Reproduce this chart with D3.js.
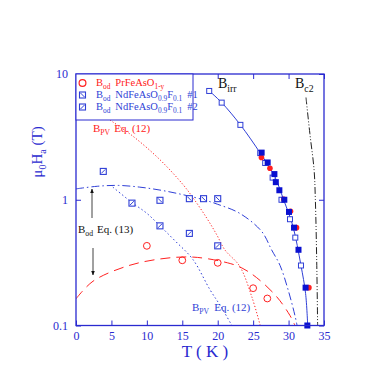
<!DOCTYPE html>
<html><head><meta charset="utf-8">
<script src="https://cdn.jsdelivr.net/npm/d3@7"></script>
<style>body{margin:0;background:#fff}svg{display:block}text{font-family:"Liberation Serif","Times New Roman",serif}</style>
</head><body><svg id="c" width="374" height="375"></svg>
<script>
// ---- data (T in K, B in tesla) ----
const xTicks = [0,5,10,15,20,25,30,35];
const yTicks = [0.1,1,10];
const yTickLabels = ["0.1","1","10"];
// B_od PrFeAsO1-y (red open circles)
const prOd = [[10,0.43],[15,0.33],[20,0.315],[25,0.198],[27,0.164]];
// B_od NdFeAsO0.9F0.1 #1
const nd1Od = [[11.85,0.99],[16,1.02],[18,1.02],[20,1.02]];
// B_od NdFeAsO0.9F0.1 #2
const nd2Od = [[3.85,1.68],[7.9,0.94],[11.85,0.62],[16,0.54],[20,0.43]];
// B_irr open squares
const irrOpen = [[18.8,7.33],[20.56,5.92],[23.2,3.94],[26.0,2.35],[26.7,1.96],[27.75,1.5],[29.0,1.0],[30.2,0.70],[30.95,0.50],[31.75,0.30]];
// B_irr filled squares
const irrFilled = [[26.2,2.37],[27.05,1.98],[28.0,1.6],[28.2,1.38],[28.7,1.19],[29.4,1.0],[30.06,0.80],[30.77,0.60],[31.4,0.40],[32.4,0.20],[32.65,0.1]];
// B_irr red filled circles
const irrRed = [[26.1,2.17],[27.3,1.78],[29.26,1.01],[30.2,0.81],[31.05,0.60],[32.8,0.20]];
// B_irr guide line
const irrLine = [[18.5,7.6],[20.56,5.92],[23.2,3.94],[26.0,2.35],[28.0,1.55],[29.3,1.0],[30.6,0.62],[31.75,0.30],[32.4,0.18],[32.7,0.1]];
// B_c2 line
const bc2Line = [[32.46,6.5],[33.0,3.38],[33.6,1.73],[33.78,1.0],[33.97,0.33],[34.1,0.1]];
// B_od Eq.(13) for Nd (blue dash-dot)
const ndOdCurve = [[0,1.22],[3,1.28],[6,1.3],[9,1.26],[12,1.19],[15,1.1],[18,1.0],[20,0.92],[23.1,0.78],[26.2,0.56],[27.6,0.40],[28.8,0.30],[29.96,0.19],[30.9,0.12],[31.2,0.1]];
// B_pv Eq.(12) for Nd (blue dotted)
const ndPvCurve = [[5.2,1.26],[7.9,0.95],[10,0.78],[11.85,0.62],[14,0.47],[16.5,0.335],[18.9,0.193],[20.5,0.14],[22,0.1]];
// B_od Eq.(13) for Pr (red dashed)
const prOdCurve = [[0,0.163],[2.4,0.225],[7.15,0.296],[11.85,0.338],[16.5,0.35],[21.4,0.315],[23.4,0.287],[25.5,0.24],[28.3,0.17],[30.2,0.12],[30.9,0.1]];
// B_pv Eq.(12) for Pr (red dotted)
const prPvCurve = [[4.8,4.3],[8.1,3.18],[11.85,2.08],[15.15,1.31],[16.55,1.03],[18.45,0.715],[19.86,0.527],[21.0,0.40],[23.1,0.296],[24.8,0.17],[26.0,0.1]];

// ---- chart ----
const svg = d3.select("#c");
const AX = "#2a2ad0", BL = "#2f3fd6", RD = "#ff2020";
const x = d3.scaleLinear().domain([0,35]).range([76,324]);
const y = d3.scaleLog().domain([0.1,10]).range([325.5,74]);

const clip = svg.append("defs").append("clipPath").attr("id","pc").append("rect")
  .attr("x",x(0)).attr("y",y(10)).attr("width",x(35)-x(0)).attr("height",y(0.1)-y(10));
const g = svg.append("g").attr("clip-path","url(#pc)");
const line = d3.line().x(d=>x(d[0])).y(d=>y(d[1])).curve(d3.curveCatmullRom);
const lineL = d3.line().x(d=>x(d[0])).y(d=>y(d[1]));

g.append("path").datum(ndOdCurve).attr("d",line).attr("fill","none").attr("stroke",BL).attr("stroke-width",1).attr("stroke-dasharray","8,3,1.5,3");
g.append("path").datum(ndPvCurve).attr("d",line).attr("fill","none").attr("stroke",BL).attr("stroke-width",1).attr("stroke-dasharray","1.5,2.5");
g.append("path").datum(prOdCurve).attr("d",line).attr("fill","none").attr("stroke",RD).attr("stroke-width",1).attr("stroke-dasharray","10,6");
g.append("path").datum(prPvCurve).attr("d",line).attr("fill","none").attr("stroke",RD).attr("stroke-width",1).attr("stroke-dasharray","1.2,2");
g.append("path").datum(irrLine).attr("d",line).attr("fill","none").attr("stroke",BL).attr("stroke-width",1);
g.append("path").datum(bc2Line).attr("d",line).attr("fill","none").attr("stroke","#222").attr("stroke-width",1).attr("stroke-dasharray","7,2,1,2,1,2");

// markers
function sqDiag(sel, dir, s){
  sel.append("rect").attr("x",-s/2).attr("y",-s/2).attr("width",s).attr("height",s).attr("fill","#fff").attr("stroke",BL).attr("stroke-width",1.1);
  if(dir>0) sel.append("line").attr("x1",-s/2+1).attr("y1",s/2-1).attr("x2",s/2-1).attr("y2",-s/2+1).attr("stroke",BL).attr("stroke-width",1);
  else sel.append("line").attr("x1",-s/2+1).attr("y1",-s/2+1).attr("x2",s/2-1).attr("y2",s/2-1).attr("stroke",BL).attr("stroke-width",1);
}
const pts = svg.append("g");
pts.selectAll(".io").data(irrOpen).join("rect").attr("x",d=>x(d[0])-2.5).attr("y",d=>y(d[1])-2.5).attr("width",5).attr("height",5).attr("fill","#fff").attr("stroke",BL).attr("stroke-width",1);
pts.selectAll(".ir").data(irrRed).join("circle").attr("cx",d=>x(d[0])+0.5).attr("cy",d=>y(d[1])).attr("r",2.8).attr("fill",RD);
pts.selectAll(".if").data(irrFilled).join("rect").attr("x",d=>x(d[0])-3).attr("y",d=>y(d[1])-3).attr("width",6).attr("height",6).attr("fill","#0a10d0");
pts.selectAll(".pr").data(prOd).join("circle").attr("cx",d=>x(d[0])).attr("cy",d=>y(d[1])).attr("r",3.4).attr("fill","none").attr("stroke",RD).attr("stroke-width",1);
pts.selectAll(".n1").data(nd1Od).join("g").attr("transform",d=>`translate(${x(d[0])},${y(d[1])})`).each(function(){sqDiag(d3.select(this),-1,6);});
pts.selectAll(".n2").data(nd2Od).join("g").attr("transform",d=>`translate(${x(d[0])},${y(d[1])})`).each(function(){sqDiag(d3.select(this),1,6);});

// axes
function styleAx(a){a.select(".domain").remove();a.selectAll("line").attr("stroke",AX);a.selectAll("text").attr("fill",AX).style("font-family","Liberation Serif").style("font-size","12px");}
svg.append("g").attr("transform",`translate(0,${y(0.1)})`).call(d3.axisBottom(x).tickValues(xTicks).tickSize(-5).tickPadding(6)).call(styleAx);
svg.append("g").attr("transform",`translate(0,${y(10)})`).call(d3.axisTop(x).tickValues(xTicks).tickSize(-5).tickFormat("")).call(styleAx);
svg.append("g").attr("transform",`translate(${x(0)},0)`).call(d3.axisLeft(y).tickValues(yTicks).tickFormat((d,i)=>yTickLabels[i]).tickSize(-5).tickPadding(8)).call(styleAx);
svg.append("g").attr("transform",`translate(${x(35)},0)`).call(d3.axisRight(y).tickValues(yTicks).tickSize(-5).tickFormat("")).call(styleAx);
svg.append("rect").attr("x",x(0)).attr("y",y(10)).attr("width",x(35)-x(0)).attr("height",y(0.1)-y(10)).attr("fill","none").attr("stroke",AX).attr("stroke-width",1.3);

// legend
svg.append("rect").attr("x",x(0)).attr("y",y(10)).attr("width",117).attr("height",46).attr("fill","#fff").attr("stroke",AX).attr("stroke-width",1);
svg.append("circle").attr("cx",82.5).attr("cy",83).attr("r",3.4).attr("fill","none").attr("stroke",RD).attr("stroke-width",1.2);
sqDiag(svg.append("g").attr("transform","translate(82.5,95)"),-1,6);
sqDiag(svg.append("g").attr("transform","translate(82.5,107)"),1,6);
function rich(parts, px, py, color, size){
  const t = svg.append("text").attr("x",px).attr("y",py).attr("fill",color).style("font-size",size+"px");
  let sub=false;
  parts.forEach(p=>{
    const isSub = p[1]==="s";
    const ts = t.append("tspan").text(p[0]);
    if(isSub && !sub){ts.attr("dy",size*0.3).style("font-size",(size*0.7)+"px");sub=true;}
    else if(isSub){ts.style("font-size",(size*0.7)+"px");}
    else if(!isSub && sub){ts.attr("dy",-size*0.3);sub=false;}
    if(p[2]) ts.attr("dx",p[2]);
  });
  return t;
}
rich([["B"],["od","s"],["PrFeAsO","n",5],["1-y","s"]],96,86,RD,10.5);
rich([["B"],["od","s"],["NdFeAsO","n",5],["0.9","s"],["F"],["0.1","s"],["#1","n",5]],96,98,BL,10.5);
rich([["B"],["od","s"],["NdFeAsO","n",5],["0.9","s"],["F"],["0.1","s"],["#2","n",5]],96,110,BL,10.5);

// annotations
rich([["B"],["irr","s"]],218,88,"#111",14);
rich([["B"],["c2","s"]],295,88,"#111",14);
rich([["B"],["PV","s"],["Eq. (12)","n",4]],93,132,RD,11);
rich([["B"],["od","s"],["Eq. (13)","n",4]],78,233,"#111",11);
rich([["B"],["PV","s"],["Eq. (12)","n",5]],192,311,BL,11);

const defs = svg.select("defs");
defs.append("marker").attr("id","ah").attr("viewBox","0 0 10 10").attr("refX",9).attr("refY",5).attr("markerWidth",6).attr("markerHeight",7).attr("orient","auto")
  .append("path").attr("d","M0,1 L10,5 L0,9 Z").attr("fill","#111");
svg.append("line").attr("x1",92).attr("y1",218).attr("x2",92).attr("y2",189).attr("stroke","#111").attr("stroke-width",0.8).attr("marker-end","url(#ah)");
svg.append("line").attr("x1",93).attr("y1",248).attr("x2",93).attr("y2",275).attr("stroke","#111").attr("stroke-width",0.8).attr("marker-end","url(#ah)");

// axis titles
svg.append("text").attr("x",205).attr("y",357).attr("text-anchor","middle").attr("fill",AX).style("font-size","17px").text("T ( K )");
const yt = svg.append("text").attr("transform","translate(42,152) rotate(-90)").attr("text-anchor","middle").attr("fill",AX).style("font-size","15px");
yt.append("tspan").text("μ");
yt.append("tspan").text("0").attr("dy",4).style("font-size","10px");
yt.append("tspan").text("H").attr("dy",-4);
yt.append("tspan").text("a").attr("dy",4).style("font-size","10px");
yt.append("tspan").text(" (T)").attr("dy",-4);
</script></body></html>
